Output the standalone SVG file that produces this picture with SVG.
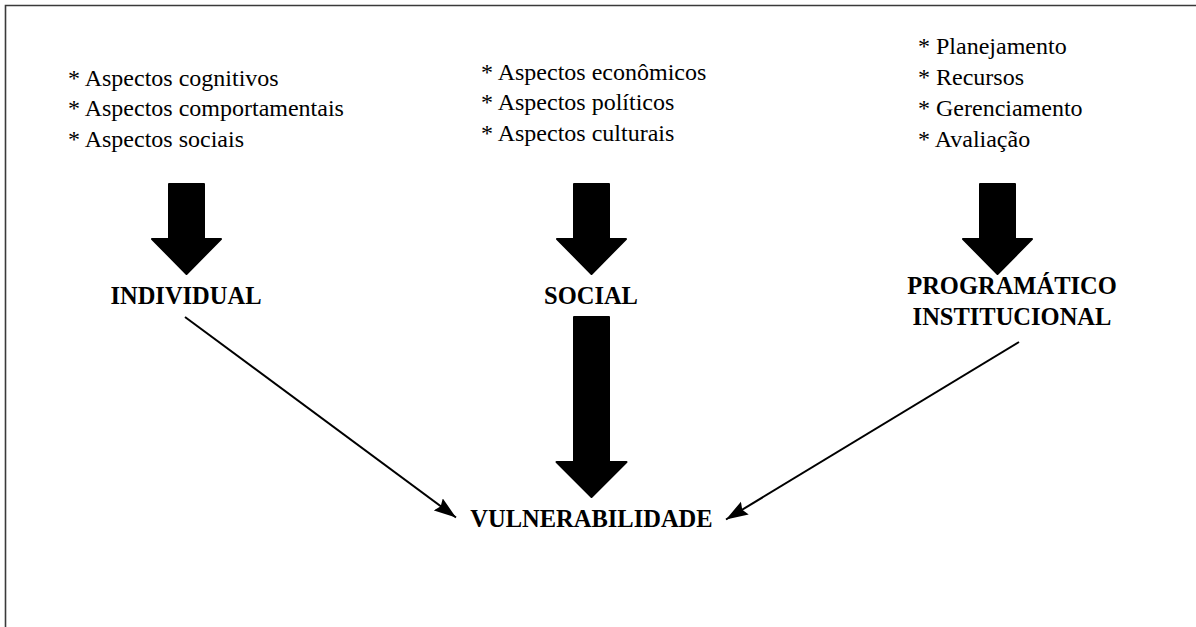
<svg xmlns="http://www.w3.org/2000/svg" width="1196" height="627" viewBox="0 0 1196 627">
<style>
.big{fill:#000;stroke:#000;stroke-width:2;stroke-linejoin:round}
.con{stroke:#000;stroke-width:2;fill:none}
</style>
<defs>
<path id="bigArrow" d="M-17.5,0 H17.5 V55 H34.5 L0,90 L-34.5,55 H-17.5 Z"/>
<marker id="ah" markerUnits="userSpaceOnUse" markerWidth="24" markerHeight="16" refX="22" refY="7.5" orient="auto">
<path d="M0,0 L22,7.5 L0,15 L3,7.5 Z" fill="#000"/>
</marker>
</defs>
<rect width="1196" height="627" fill="#fff"/>
<path d="M5.5,627 V5.5 H1196" fill="none" stroke="#3a3a3a" stroke-width="1.6"/>

<g id="col-individual" font-family="Liberation Serif" font-size="24" fill="#000">
<text x="68" y="86">* Aspectos cognitivos</text>
<text x="68" y="116">* Aspectos comportamentais</text>
<text x="68" y="146.5">* Aspectos sociais</text>
</g>
<g id="col-social" font-family="Liberation Serif" font-size="24" fill="#000">
<text x="481" y="80">* Aspectos econômicos</text>
<text x="481" y="110">* Aspectos políticos</text>
<text x="481" y="140.5">* Aspectos culturais</text>
</g>
<g id="col-programatico" font-family="Liberation Serif" font-size="24" fill="#000">
<text x="918" y="54">* Planejamento</text>
<text x="918" y="85">* Recursos</text>
<text x="918" y="116">* Gerenciamento</text>
<text x="918" y="147">* Avaliação</text>
</g>

<g id="arrow-individual"><use href="#bigArrow" class="big" transform="translate(186.5,184)"/></g>
<g id="arrow-social"><use href="#bigArrow" class="big" transform="translate(591.5,184)"/></g>
<g id="arrow-programatico"><use href="#bigArrow" class="big" transform="translate(997.5,184)"/></g>

<g font-family="Liberation Serif" font-size="24.5" font-weight="bold" text-anchor="middle" fill="#000">
<g id="node-individual"><text x="186" y="304">INDIVIDUAL</text></g>
<g id="node-social"><text x="591" y="304">SOCIAL</text></g>
<g id="node-programatico">
<text x="1012" y="294">PROGRAMÁTICO</text>
<text x="1012" y="325">INSTITUCIONAL</text>
</g>
<g id="node-vulnerabilidade"><text x="591.5" y="527">VULNERABILIDADE</text></g>
</g>

<g id="connectors">
<path class="big" d="M574,317 H609 V462 H626.5 L591.5,497 L556.5,462 H574 Z"/>
<line class="con" x1="185" y1="317" x2="456" y2="517.5" marker-end="url(#ah)"/>
<line class="con" x1="1019" y1="342" x2="726" y2="519.5" marker-end="url(#ah)"/>
</g>
</svg>
